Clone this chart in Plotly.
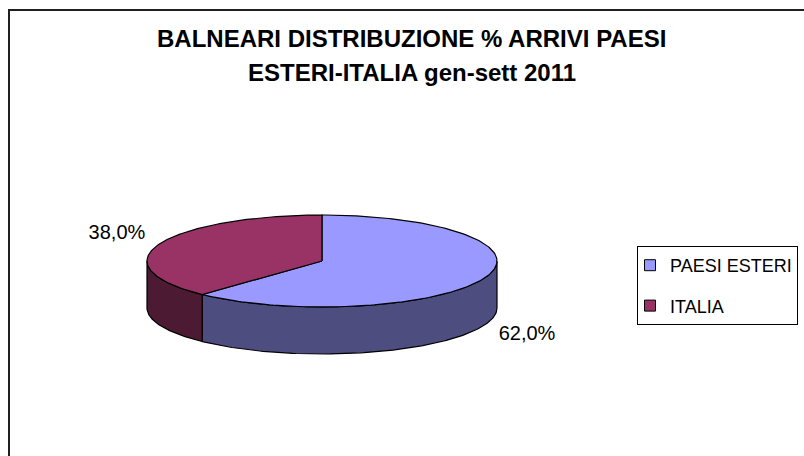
import numpy as np
import plotly.graph_objects as go

# ---- data ----
categories = ["PAESI ESTERI", "ITALIA"]
values = [62.0, 38.0]
top_colors = ["#9999FF", "#993366"]
side_colors = ["#4D4D80", "#4D1A33"]
title_lines = ["BALNEARI DISTRIBUZIONE % ARRIVI PAESI", "ESTERI-ITALIA gen-sett 2011"]

# ---- pie geometry (pixel space of the axes) ----
CX, CY, RX, RY, DEPTH = 322, 261, 175, 46, 47
START = 90.0  # 12 o'clock, slices run clockwise

def pt(a_deg, dy=0.0):
    a = np.radians(a_deg)
    return CX + RX * np.cos(a), CY - RY * np.sin(a) + dy

total = sum(values)
spans = []
a0 = START
for v in values:
    a1 = a0 - v / total * 360.0
    spans.append((a0, a1))
    a0 = a1

fig = go.Figure()

# side walls (front half only)
for (hi_a, lo_a), col in zip(spans, side_colors):
    for k in (-1, 0, 1):
        f_lo, f_hi = -180 + 360 * k, 360 * k
        lo, hi = max(lo_a, f_lo), min(hi_a, f_hi)
        if hi - lo <= 0.01:
            continue
        ang = np.linspace(lo, hi, 120)
        xt, yt = pt(ang)
        xb, yb = pt(ang[::-1], DEPTH)
        xs = np.concatenate([xt, xb, xt[:1]])
        ys = np.concatenate([yt, yb, yt[:1]])
        fig.add_trace(go.Scatter(x=xs, y=ys, mode="lines", fill="toself",
                                 fillcolor=col, line=dict(color="black", width=1.2),
                                 hoverinfo="skip", showlegend=False))

# top faces
for (hi_a, lo_a), col, name, v in zip(spans, top_colors, categories, values):
    ang = np.linspace(hi_a, lo_a, 200)
    xa, ya = pt(ang)
    xs = np.concatenate([[CX], xa, [CX]])
    ys = np.concatenate([[CY], ya, [CY]])
    fig.add_trace(go.Scatter(x=xs, y=ys, mode="lines", fill="toself",
                             fillcolor=col, line=dict(color="black", width=1.2),
                             name=name, hovertemplate=f"{name}: {v:.1f}%<extra></extra>",
                             showlegend=False))

# data labels
lx, ly, lt = [], [], []
for (hi_a, lo_a), v in zip(spans, values):
    mid = np.radians((hi_a + lo_a) / 2)
    x = CX + 1.26 * RX * np.cos(mid)
    y = CY - 1.6 * RY * np.sin(mid) + (DEPTH if np.sin(mid) < 0 else 0)
    lx.append(x)
    ly.append(y)
    lt.append(f"{v / total * 100:.1f}%".replace(".", ","))
fig.add_trace(go.Scatter(x=lx, y=ly, mode="text", text=lt, textposition="middle center",
                         textfont=dict(family="Liberation Sans, Arial", size=20, color="black"),
                         hoverinfo="skip", showlegend=False))

# legend entries
for i, (name, col) in enumerate(zip(categories, top_colors)):
    fig.add_trace(go.Scatter(x=[None], y=[None], mode="markers", name=name,
                             legendgroup=f"g{i}",
                             marker=dict(symbol="square", size=11, color=col,
                                         line=dict(color="black", width=1))))

# title
for i, (line, yy) in enumerate(zip(title_lines, [38, 72.5])):
    fig.add_annotation(x=411.5, y=yy, xref="x", yref="y", text=line, showarrow=False,
                       xanchor="center", yanchor="middle",
                       font=dict(family="Liberation Sans, Arial", size=24, color="black",
                                 weight="bold"))

# chart area border
fig.add_shape(type="rect", xref="x", yref="y", x0=9, y0=10, x1=900, y1=600,
              line=dict(color="#202020", width=2), fillcolor="rgba(0,0,0,0)")

fig.update_layout(
    width=804, height=456, autosize=False,
    margin=dict(l=0, r=0, t=0, b=0),
    paper_bgcolor="white", plot_bgcolor="white",
    xaxis=dict(range=[0, 804], visible=False, fixedrange=True),
    yaxis=dict(range=[456, 0], visible=False, fixedrange=True),
    showlegend=True,
    legend=dict(x=637 / 804, y=1 - 246 / 456, xanchor="left", yanchor="top",
                bordercolor="black", borderwidth=1, bgcolor="white",
                font=dict(family="Liberation Sans, Arial", size=18, color="black"),
                tracegroupgap=14, indentation=-8),
)

fig.write_html("out.html",
               config={"displayModeBar": False},
               post_script="document.body.style.margin='0px';document.body.style.padding='0px';")
